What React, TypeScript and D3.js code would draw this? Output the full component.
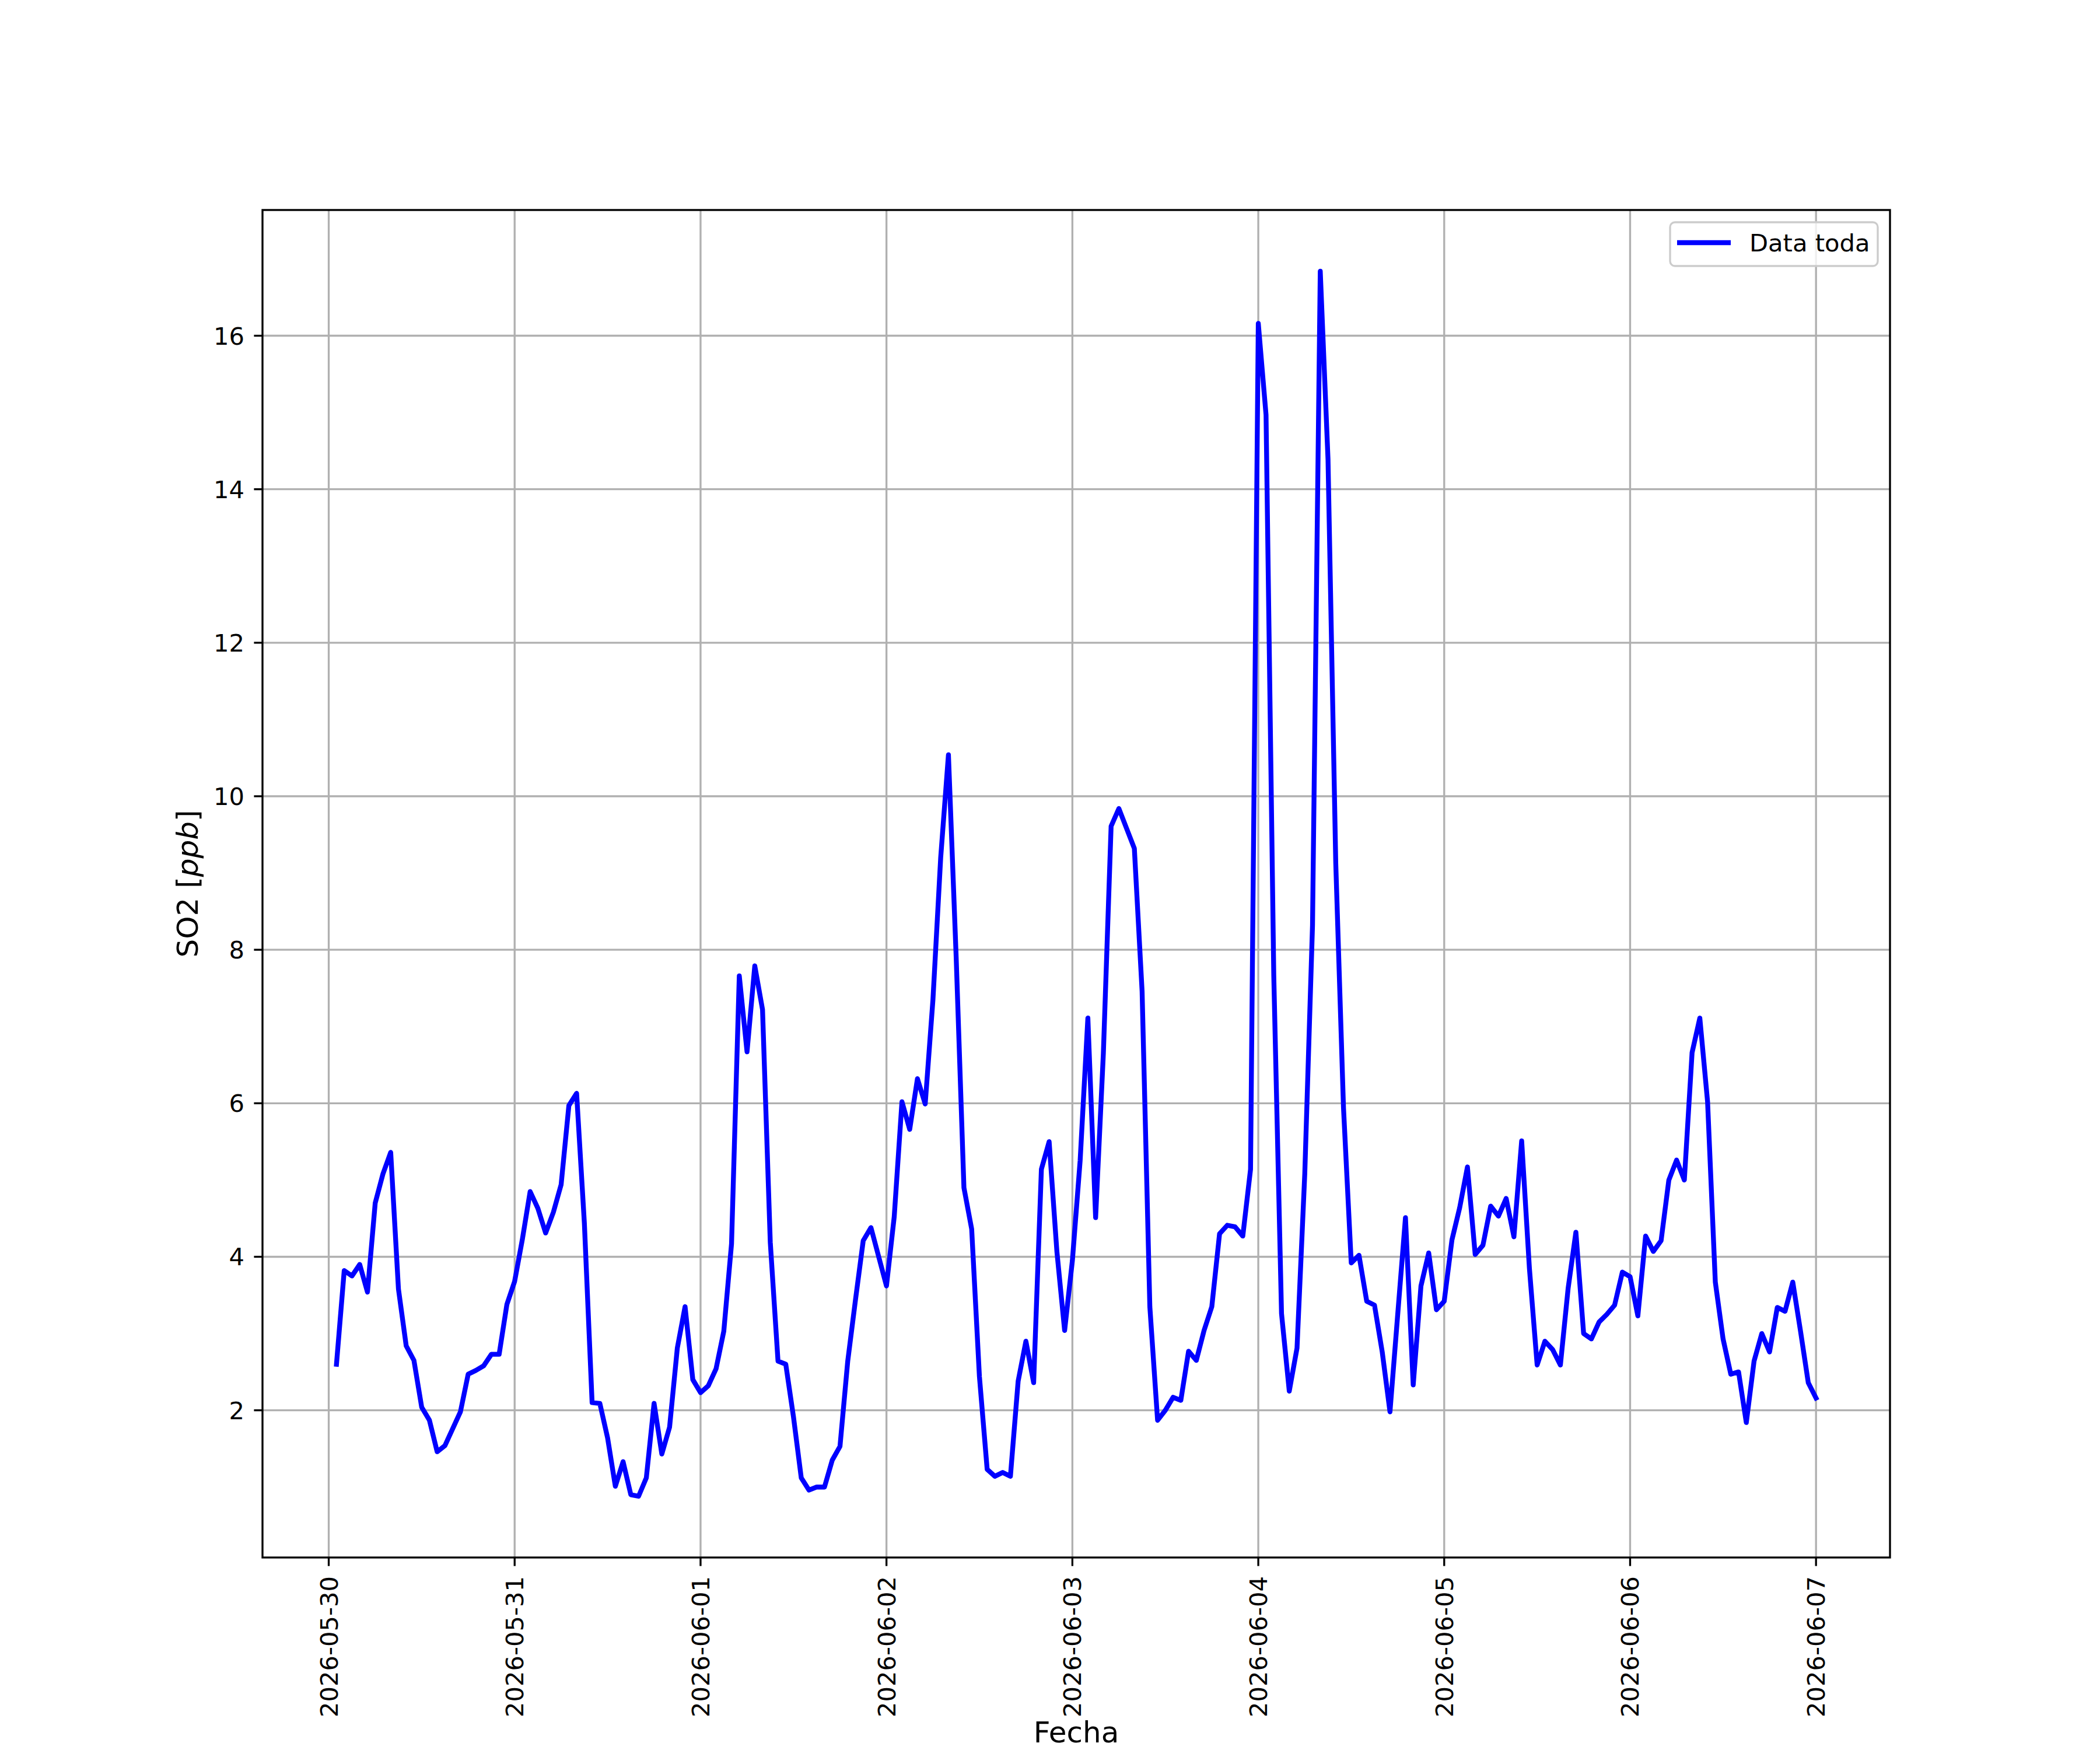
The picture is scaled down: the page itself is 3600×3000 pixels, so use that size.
import React from 'react';
import * as d3 from 'd3';

// hourly SO2 readings, 2026-05-30 01:00 .. 2026-06-07 00:00
const so2Values = [
  2.60, 3.82, 3.75, 3.90, 3.54, 4.70, 5.08, 5.36, 3.58, 2.84, 2.65, 2.04,
  1.87, 1.46, 1.54, 1.76, 1.98, 2.47, 2.52, 2.58, 2.73, 2.73, 3.38, 3.68,
  4.23, 4.85, 4.63, 4.31, 4.58, 4.94, 5.97, 6.13, 4.44, 2.10, 2.09, 1.64,
  1.01, 1.33, 0.90, 0.88, 1.12, 2.09, 1.43, 1.78, 2.81, 3.35, 2.40, 2.23,
  2.32, 2.54, 3.03, 4.17, 7.66, 6.67, 7.79, 7.22, 4.19, 2.64, 2.60, 1.91,
  1.12, 0.96, 1.00, 1.00, 1.35, 1.53, 2.64, 3.44, 4.21, 4.38, 4.00, 3.62,
  4.52, 6.02, 5.66, 6.32, 5.99, 7.35, 9.20, 10.54, 7.90, 4.90, 4.36, 2.44,
  1.23, 1.14, 1.19, 1.14, 2.38, 2.90, 2.36, 5.14, 5.50, 4.07, 3.04, 3.95,
  5.25, 7.11, 4.51, 6.65, 9.61, 9.84, 9.58, 9.32, 7.46, 3.35, 1.87, 2.00,
  2.17, 2.13, 2.77, 2.65, 3.04, 3.35, 4.30, 4.41, 4.39, 4.27, 5.14, 16.16,
  14.97, 7.66, 3.26, 2.25, 2.81, 5.08, 8.32, 16.84, 14.39, 9.13, 5.94, 3.92,
  4.02, 3.42, 3.37, 2.76, 1.98, 3.25, 4.51, 2.33, 3.62, 4.05, 3.31, 3.42,
  4.22, 4.64, 5.17, 4.03, 4.15, 4.66, 4.53, 4.76, 4.26, 5.51, 3.85, 2.59,
  2.90, 2.79, 2.59, 3.59, 4.32, 3.00, 2.93, 3.15, 3.25, 3.37, 3.80, 3.74,
  3.23, 4.27, 4.07, 4.21, 5.00, 5.26, 5.00, 6.66, 7.11, 6.02, 3.67, 2.93,
  2.47, 2.50, 1.84, 2.64, 3.00, 2.76, 3.34, 3.29, 3.67, 3.03, 2.36, 2.16,
];
const firstReading = new Date(2026, 4, 30, 1);
const yTicks = [2, 4, 6, 8, 10, 12, 14, 16];
const xTickDays = [
  new Date(2026, 4, 30), new Date(2026, 4, 31), new Date(2026, 5, 1),
  new Date(2026, 5, 2), new Date(2026, 5, 3), new Date(2026, 5, 4),
  new Date(2026, 5, 5), new Date(2026, 5, 6), new Date(2026, 5, 7),
];
const seriesName = 'Data toda';

const W = 3600;
const H = 3000;
const left = 450, right = 3240, top = 360, bottom = 2670;
const fs = 41.67;     // 10pt @ 300dpi
const labelFs = 50;   // 12pt axis labels
const lw = 3.33;      // 0.8pt
const seriesLw = 8.33; // 2pt
const font = '"DejaVu Sans", sans-serif';

const App = () => {
  const points = so2Values.map((v, i) => ({ t: d3.timeHour.offset(firstReading, i), v }));

  const [t0, t1] = d3.extent(points, (d) => d.t) as [Date, Date];
  const span = +t1 - +t0;
  const x = d3.scaleTime()
    .domain([new Date(+t0 - span * 0.05), new Date(+t1 + span * 0.05)])
    .range([left, right]);

  const [vMin, vMax] = d3.extent(so2Values) as [number, number];
  const pad = (vMax - vMin) * 0.05;
  const y = d3.scaleLinear().domain([vMin - pad, vMax + pad]).range([bottom, top]);

  const line = d3.line<{ t: Date; v: number }>()
    .x((d) => x(d.t))
    .y((d) => y(d.v));

  const fmt = d3.timeFormat('%Y-%m-%d');

  return (
    <svg width={W} height={H} style={{ position: 'absolute', left: 0, top: 0, background: 'white' }}
      fontFamily={font}>
      <rect width={W} height={H} fill="white" />

      {/* grid */}
      <g stroke="#b0b0b0" strokeWidth={lw}>
        {xTickDays.map((d, i) => (
          <line key={'gx' + i} x1={x(d)} x2={x(d)} y1={top} y2={bottom} />
        ))}
        {yTicks.map((t) => (
          <line key={'gy' + t} x1={left} x2={right} y1={y(t)} y2={y(t)} />
        ))}
      </g>

      <path d={line(points) || ''} fill="none" stroke="#0000ff" strokeWidth={seriesLw}
        strokeLinejoin="round" strokeLinecap="square" />

      {/* spines */}
      <rect x={left} y={top} width={right - left} height={bottom - top}
        fill="none" stroke="black" strokeWidth={lw} />

      {/* x axis */}
      {xTickDays.map((d, i) => (
        <g key={'xt' + i}>
          <line x1={x(d)} x2={x(d)} y1={bottom} y2={bottom + 14.6} stroke="black" strokeWidth={lw} />
          <text transform={`translate(${x(d)},${bottom + 32}) rotate(-90)`} textAnchor="end"
            dy="0.36em" fontSize={fs}>{fmt(d)}</text>
        </g>
      ))}
      <text x={(left + right) / 2} y={2987} textAnchor="middle" fontSize={labelFs}>Fecha</text>

      {/* y axis */}
      {yTicks.map((t) => (
        <g key={'yt' + t}>
          <line x1={left - 14.6} x2={left} y1={y(t)} y2={y(t)} stroke="black" strokeWidth={lw} />
          <text x={left - 31} y={y(t)} dy="0.36em" textAnchor="end" fontSize={fs}>{t}</text>
        </g>
      ))}
      <text transform={`translate(339,${(top + bottom) / 2}) rotate(-90)`} textAnchor="middle" fontSize={labelFs}>
        SO2 [<tspan fontStyle="italic">ppb</tspan>]
      </text>

      {/* legend */}
      <g>
        <rect x={2863} y={381} width={356} height={75} rx={8.3} ry={8.3}
          fill="white" fillOpacity={0.8} stroke="#cccccc" strokeWidth={lw} />
        <line x1={2875} x2={2967} y1={416} y2={416} stroke="#0000ff" strokeWidth={seriesLw} strokeLinecap="butt" />
        <text x={2999} y={431} fontSize={fs}>{seriesName}</text>
      </g>
    </svg>
  );
};

export default App;
